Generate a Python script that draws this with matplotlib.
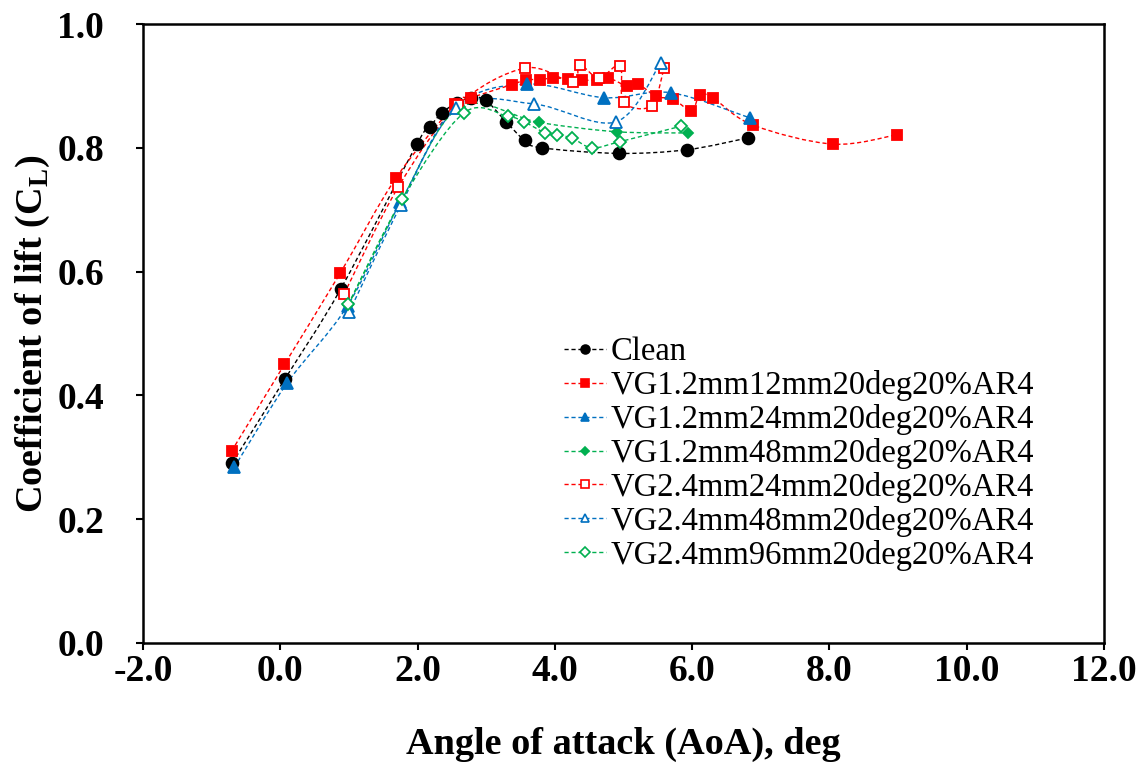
import matplotlib
matplotlib.use("Agg")
import matplotlib.pyplot as plt
import numpy as np
from matplotlib.lines import Line2D
from matplotlib.path import Path
from matplotlib.patches import PathPatch

# data (AoA in deg, lift coefficient)
clean_aoa = [-0.70, 0.07, 0.88, 1.99, 2.18, 2.35, 2.57, 2.78, 2.99, 3.29, 3.56, 3.81, 4.93, 5.93, 6.81]
clean_cl = [0.291, 0.427, 0.572, 0.806, 0.834, 0.856, 0.873, 0.881, 0.877, 0.842, 0.812, 0.800, 0.791, 0.797, 0.816]

vg12_12_aoa = [-0.71, 0.06, 0.87, 1.69, 2.55, 2.78, 3.37, 3.58, 3.78, 3.97, 4.19, 4.39, 4.61, 4.78,
               5.05, 5.21, 5.48, 5.72, 5.99, 6.11, 6.30, 6.88, 8.05, 8.98]
vg12_12_cl = [0.310, 0.450, 0.597, 0.752, 0.870, 0.881, 0.902, 0.910, 0.910, 0.913, 0.911, 0.909, 0.910, 0.913,
              0.900, 0.903, 0.883, 0.879, 0.860, 0.885, 0.881, 0.837, 0.806, 0.821]

vg12_24_aoa = [-0.67, 0.10, 0.98, 1.75, 2.57, 3.59, 4.72, 5.69, 6.85]
vg12_24_cl = [0.284, 0.420, 0.545, 0.712, 0.866, 0.903, 0.881, 0.889, 0.848]

vg12_48_aoa = [0.99, 1.77, 2.62, 3.77, 4.90, 5.94]
vg12_48_cl = [0.546, 0.716, 0.866, 0.841, 0.826, 0.824]

vg24_24_aoa = [0.93, 1.72, 2.59, 3.57, 4.26, 4.36, 4.64, 4.95, 5.00, 5.41, 5.59]
vg24_24_cl = [0.564, 0.737, 0.869, 0.929, 0.906, 0.934, 0.913, 0.933, 0.874, 0.868, 0.929]

vg24_48_aoa = [1.00, 1.76, 2.56, 3.69, 4.89, 5.54]
vg24_48_cl = [0.534, 0.708, 0.865, 0.871, 0.842, 0.937]

vg24_96_aoa = [0.99, 1.78, 2.67, 3.31, 3.55, 3.86, 4.03, 4.25, 4.54, 4.95, 5.84]
vg24_96_cl = [0.547, 0.718, 0.856, 0.851, 0.842, 0.824, 0.820, 0.816, 0.800, 0.810, 0.835]

labels = ["Clean", "VG1.2mm12mm20deg20%AR4", "VG1.2mm24mm20deg20%AR4", "VG1.2mm48mm20deg20%AR4",
          "VG2.4mm24mm20deg20%AR4", "VG2.4mm48mm20deg20%AR4", "VG2.4mm96mm20deg20%AR4"]

RED = "#FF0000"
BLUE = "#0070C0"
GREEN = "#00B050"

styles = [
    dict(color="black", marker="o", ms=8.5, mfc="black"),
    dict(color=RED, marker="s", ms=7.5, mfc=RED),
    dict(color=BLUE, marker="^", ms=8.5, mfc=BLUE),
    dict(color=GREEN, marker="D", ms=5.5, mfc=GREEN),
    dict(color=RED, marker="s", ms=7.5, mfc="white"),
    dict(color=BLUE, marker="^", ms=8.5, mfc="white"),
    dict(color=GREEN, marker="D", ms=6.5, mfc="white"),
]

series = [(clean_aoa, clean_cl), (vg12_12_aoa, vg12_12_cl), (vg12_24_aoa, vg12_24_cl),
          (vg12_48_aoa, vg12_48_cl), (vg24_24_aoa, vg24_24_cl), (vg24_48_aoa, vg24_48_cl),
          (vg24_96_aoa, vg24_96_cl)]


def smooth_path(xs, ys):
    # Excel-style smoothed line: cubic Bezier segments with Catmull-Rom control points
    p = np.column_stack([xs, ys])
    n = len(p)
    verts = [p[0]]
    codes = [Path.MOVETO]
    for i in range(n - 1):
        prev = p[i - 1] if i > 0 else p[i]
        nxt = p[i + 2] if i + 2 < n else p[i + 1]
        c1 = p[i] + (p[i + 1] - prev) / 6.0
        c2 = p[i + 1] - (nxt - p[i]) / 6.0
        verts += [c1, c2, p[i + 1]]
        codes += [Path.CURVE4] * 3
    return Path(verts, codes)


plt.rcParams["font.family"] = ["Liberation Serif", "DejaVu Serif"]
plt.rcParams["mathtext.fontset"] = "custom"
plt.rcParams["mathtext.rm"] = "Liberation Serif"
plt.rcParams["mathtext.bf"] = "Liberation Serif:bold"

fig = plt.figure(figsize=(11.47, 7.63), dpi=100)
ax = fig.add_axes([0.1247, 0.1573, 0.8378, 0.8112])

DASH = (0, (3, 2))
handles = []
for (xs, ys), st, lab in zip(series, styles, labels):
    ax.add_patch(PathPatch(smooth_path(xs, ys), fill=False, edgecolor=st["color"],
                           linewidth=1.0, linestyle=DASH, zorder=2))
    ax.plot(xs, ys, linestyle="none", marker=st["marker"], markersize=st["ms"],
            markerfacecolor=st["mfc"], markeredgecolor=st["color"], markeredgewidth=1.3, zorder=3)
    handles.append(Line2D([], [], color=st["color"], linewidth=1.0, linestyle=DASH,
                          marker=st["marker"], markersize=st["ms"] * 0.75,
                          markerfacecolor=st["mfc"], markeredgecolor=st["color"], markeredgewidth=1.2))

ax.set_xlim(-2.0, 12.0)
ax.set_ylim(0.0, 1.0)
ax.set_xticks(np.arange(-2.0, 12.01, 2.0))
ax.set_yticks(np.arange(0.0, 1.01, 0.2))
ax.set_xticklabels([f"{v:.1f}" for v in np.arange(-2.0, 12.01, 2.0)])
ax.set_yticklabels([f"{v:.1f}" for v in np.arange(0.0, 1.01, 0.2)])
ax.tick_params(axis="both", direction="out", length=5, width=1.5, labelsize=27)
ax.tick_params(axis="y", pad=23)
ax.tick_params(axis="x", pad=3)
for lab in ax.get_xticklabels() + ax.get_yticklabels():
    lab.set_fontweight("bold")
for sp in ax.spines.values():
    sp.set_linewidth(1.8)

ax.set_xlabel("Angle of attack (AoA), deg", fontsize=27.5, fontweight="bold", labelpad=27)
ax.set_ylabel(r"Coefficient of lift (C$_\mathbf{L}$)", fontsize=27.5, fontweight="bold", labelpad=4)

ax.legend(handles, labels, loc="upper left", bbox_to_anchor=(0.424, 0.516), frameon=False,
          fontsize=23.5, handlelength=1.3, handletextpad=0.15, labelspacing=0.09, borderaxespad=0)

fig.savefig("out.png", dpi=100, facecolor="white")
